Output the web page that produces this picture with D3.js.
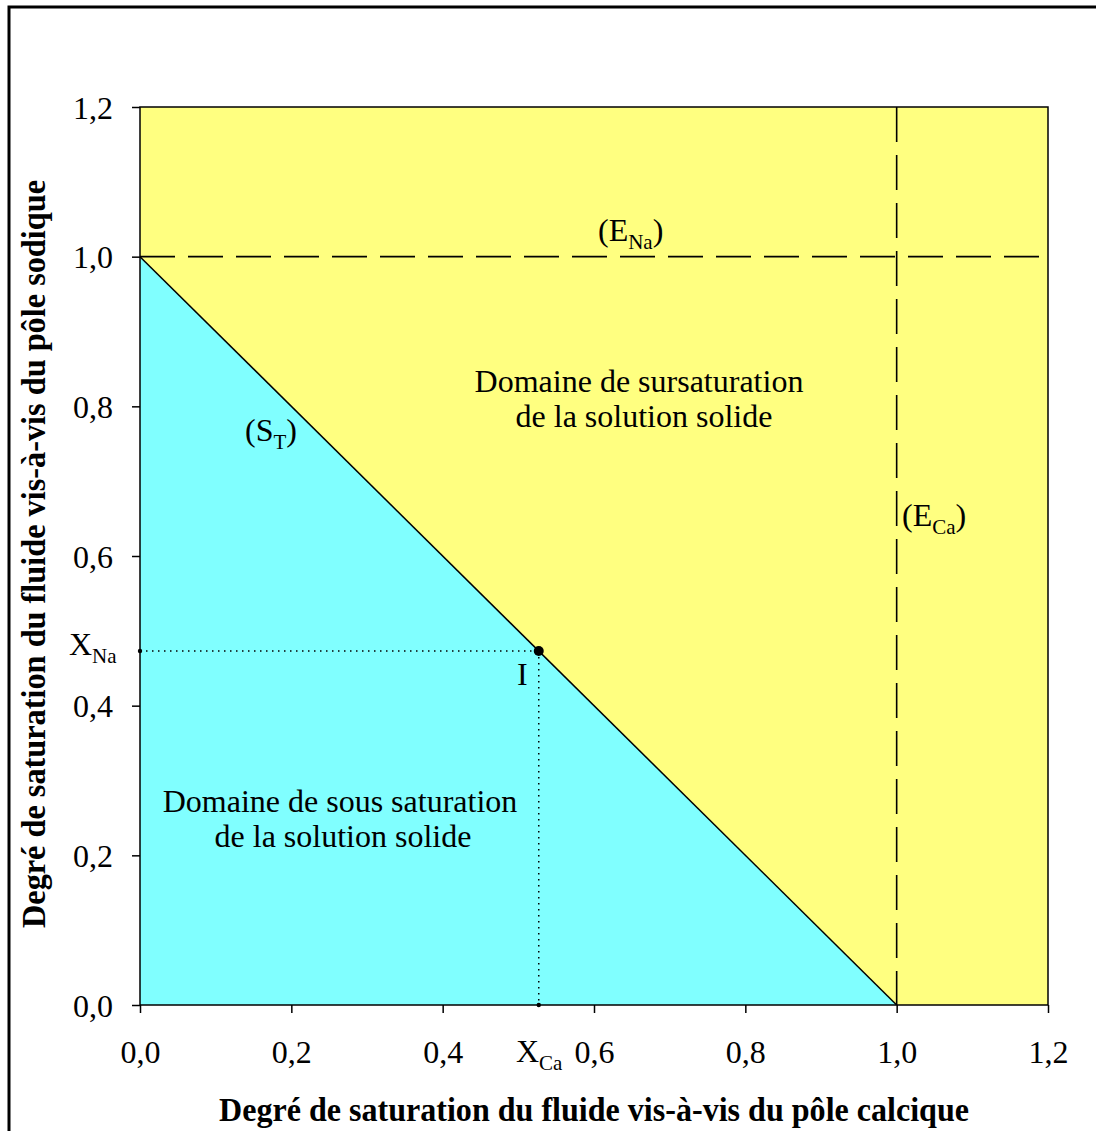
<!DOCTYPE html>
<html><head><meta charset="utf-8">
<script src="https://cdn.jsdelivr.net/npm/d3@7"></script>
<style>body{margin:0;background:#fff}text{font-family:"Liberation Serif","Times New Roman",serif}</style>
</head><body>
<svg id="c" width="1096" height="1131"></svg>
<script>
const xTicks = [0, 0.2, 0.4, 0.6, 0.8, 1.0, 1.2];
const yTicks = [0, 0.2, 0.4, 0.6, 0.8, 1.0, 1.2];
const saturationLine = [[0, 1], [1, 0]];
const pointI = [0.527, 0.473];
const eNa = 1.0, eCa = 1.0;

const svg = d3.select("#c");
const W = 1096, H = 1131;
const m = {l: 140, t: 107, r: 1048, b: 1005};
const x = d3.scaleLinear().domain([0, 1.2]).range([m.l, m.r]);
const y = d3.scaleLinear().domain([0, 1.2]).range([m.b, m.t]);
const fmt = d => d3.format(".1f")(d).replace(".", ",");
const FS = 32;

svg.append("rect").attr("x", 9).attr("y", 7).attr("width", W + 20).attr("height", H + 20)
  .attr("fill", "none").attr("stroke", "#000").attr("stroke-width", 3);

svg.append("rect").attr("x", x(0)).attr("y", y(1.2)).attr("width", x(1.2) - x(0)).attr("height", y(0) - y(1.2))
  .attr("fill", "#ffff80");
svg.append("path").attr("d", d3.line()([[x(0), y(0)], [x(0), y(1)], [x(1), y(0)]]) + "Z")
  .attr("fill", "#80ffff");
svg.append("path").attr("d", d3.line().x(d => x(d[0])).y(d => y(d[1]))(saturationLine))
  .attr("stroke", "#000").attr("stroke-width", 1.5).attr("fill", "none");
svg.append("line").attr("x1", x(0)).attr("x2", x(1.2)).attr("y1", y(eNa)).attr("y2", y(eNa))
  .attr("stroke", "#000").attr("stroke-width", 1.6).attr("stroke-dasharray", "35,13");
svg.append("line").attr("x1", x(eCa)).attr("x2", x(eCa)).attr("y1", y(1.2)).attr("y2", y(0))
  .attr("stroke", "#000").attr("stroke-width", 1.6).attr("stroke-dasharray", "35,13");
svg.append("line").attr("x1", x(0)).attr("x2", x(pointI[0])).attr("y1", y(pointI[1])).attr("y2", y(pointI[1]))
  .attr("stroke", "#000").attr("stroke-width", 1.5).attr("stroke-dasharray", "1.5,4.5");
svg.append("line").attr("x1", x(pointI[0])).attr("x2", x(pointI[0])).attr("y1", y(pointI[1])).attr("y2", y(0))
  .attr("stroke", "#000").attr("stroke-width", 1.5).attr("stroke-dasharray", "1.5,4.5");
svg.append("circle").attr("cx", x(pointI[0])).attr("cy", y(pointI[1])).attr("r", 5).attr("fill", "#000");
svg.append("circle").attr("cx", x(0)).attr("cy", y(pointI[1])).attr("r", 2.2).attr("fill", "#000");
svg.append("circle").attr("cx", x(pointI[0])).attr("cy", y(0)).attr("r", 2.2).attr("fill", "#000");

svg.append("rect").attr("x", x(0)).attr("y", y(1.2)).attr("width", x(1.2) - x(0)).attr("height", y(0) - y(1.2))
  .attr("fill", "none").attr("stroke", "#000").attr("stroke-width", 1.5);

const xa = svg.append("g").attr("transform", `translate(0,${m.b})`)
  .call(d3.axisBottom(x).tickValues(xTicks).tickFormat(fmt).tickSize(8));
const ya = svg.append("g").attr("transform", `translate(${m.l},0)`)
  .call(d3.axisLeft(y).tickValues(yTicks).tickFormat(fmt).tickSize(8));
[xa, ya].forEach(a => {
  a.select(".domain").remove();
  a.selectAll("line").attr("stroke", "#000").attr("stroke-width", 1.5);
  a.selectAll("text").attr("font-family", "Liberation Serif").attr("font-size", FS).attr("fill", "#000");
});
xa.selectAll("text").attr("y", 47).attr("dy", "0.35em");
ya.selectAll("text").attr("x", -27).attr("dy", "0.35em");

svg.append("text").attr("x", 594).attr("y", 1121).attr("text-anchor", "middle")
  .attr("font-size", 34).attr("font-weight", "bold").attr("textLength", 750).attr("lengthAdjust", "spacingAndGlyphs")
  .text("Degré de saturation du fluide vis-à-vis du pôle calcique");
svg.append("text").attr("transform", "translate(45,554) rotate(-90)").attr("text-anchor", "middle")
  .attr("font-size", 34).attr("font-weight", "bold").attr("textLength", 748).attr("lengthAdjust", "spacingAndGlyphs")
  .text("Degré de saturation du fluide vis-à-vis du pôle sodique");

function lbl(px, py, main, sub) {
  const t = svg.append("text").attr("x", px).attr("y", py).attr("font-size", FS);
  t.append("tspan").text(main);
  if (sub) {
    t.append("tspan").attr("font-size", 21).attr("dy", 8).text(sub);
    if (main.startsWith("(")) t.append("tspan").attr("dy", -8).text(")");
  }
  return t;
}
lbl(598, 241, "(E", "Na");
lbl(902, 526, "(E", "Ca");
lbl(245, 441, "(S", "T");
lbl(69, 655, "X", "Na");
lbl(516, 1062, "X", "Ca");
lbl(517, 685, "I");

svg.append("text").attr("x", 639).attr("y", 392).attr("text-anchor", "middle").attr("font-size", FS).text("Domaine de sursaturation");
svg.append("text").attr("x", 644).attr("y", 427).attr("text-anchor", "middle").attr("font-size", FS).text("de la solution solide");
svg.append("text").attr("x", 340).attr("y", 812).attr("text-anchor", "middle").attr("font-size", FS).text("Domaine de sous saturation");
svg.append("text").attr("x", 343).attr("y", 847).attr("text-anchor", "middle").attr("font-size", FS).text("de la solution solide");
</script>
</body></html>
